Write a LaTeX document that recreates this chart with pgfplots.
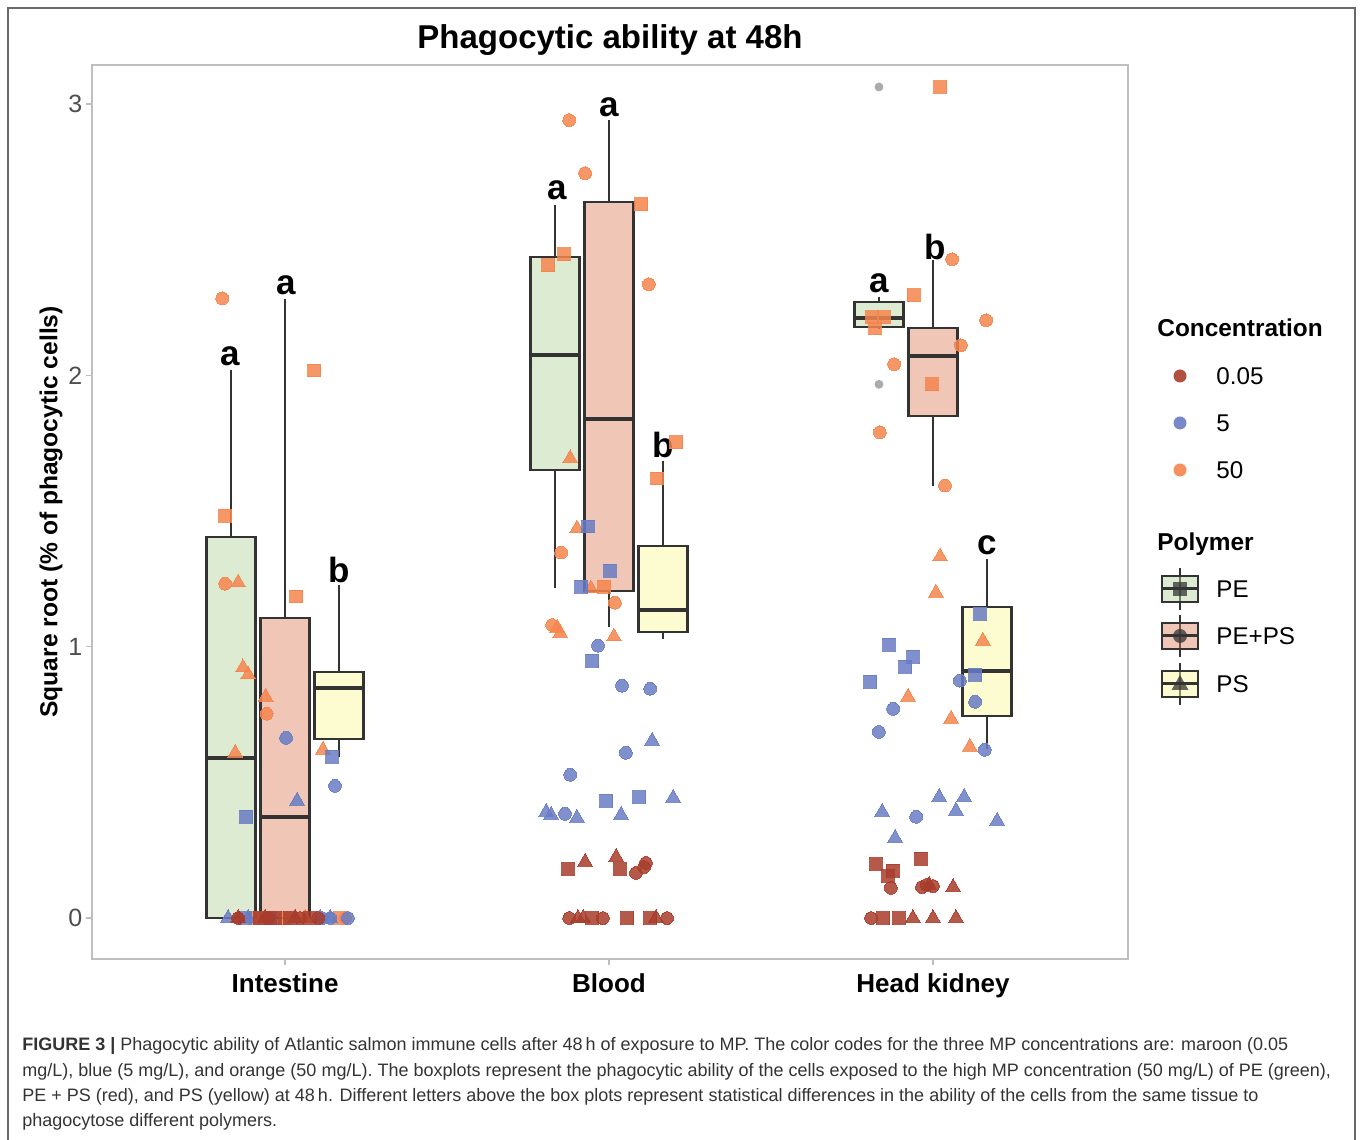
\documentclass[border=0pt]{standalone}
\usepackage{fontspec}
\setmainfont{Liberation Sans}
\usepackage{pgfplots}
\pgfplotsset{compat=1.18}
\usepgfplotslibrary{statistics}
\definecolor{cmar}{RGB}{168,60,44}
\definecolor{cblu}{RGB}{104,124,196}
\definecolor{cora}{RGB}{245,133,78}
\definecolor{fPE}{RGB}{177,211,155}
\definecolor{fPEPS}{RGB}{222,128,93}
\definecolor{fPS}{RGB}{251,246,151}
\definecolor{bxd}{RGB}{51,51,51}
\definecolor{axgray}{RGB}{190,190,190}
\definecolor{tickgray}{RGB}{77,77,77}
\definecolor{capgray}{RGB}{51,51,51}
\definecolor{framegray}{RGB}{105,105,105}
\pgfplotsset{
  sq/.style={only marks, mark=square*, mark size=3.2pt, color=#1, opacity=0.85, mark options={solid, draw=#1, fill=#1, line width=0pt}},
  ci/.style={only marks, mark=*, mark size=3.2pt, color=#1, opacity=0.85, mark options={solid, draw=#1, fill=#1, line width=0pt}},
  tr/.style={only marks, mark=triangle*, mark size=4.3pt, color=#1, opacity=0.85, mark options={solid, draw=#1, fill=#1, line width=0pt}},
  bx/.style={draw=bxd, line width=1.3pt, fill=#1, fill opacity=0.45, solid},
}
\begin{document}
\begin{tikzpicture}
\path[use as bounding box] (0pt,0pt) rectangle (680pt,570pt);
\begin{axis}[at={(45.85pt,90.5pt)}, anchor=south west, scale only axis,
  width=518.15pt, height=447pt,
  xmin=0.403, xmax=3.602, ymin=-0.151, ymax=3.144,
  axis line style={draw=axgray, line width=0.9pt},
  xtick={1,2,3}, xticklabels={Intestine,Blood,Head kidney},
  ytick={0,1,2,3}, tick pos=left, tick align=outside, major tick length=3pt,
  tick style={draw=axgray, line width=0.6pt},
  yticklabel style={font=\fontsize{12.5}{14}\selectfont, text=tickgray, inner sep=0pt, xshift=-1.5pt},
  xticklabel style={font=\fontsize{13}{15}\selectfont\bfseries, inner sep=0pt, yshift=-4pt},
  /pgf/number format/assume math mode=true,
  boxplot/draw direction=y,
  clip=false]
% ---- orange (50 mg/L)
\addplot[sq=cora] coordinates {(0.815,1.483) (1.090,2.018) (1.034,1.185) (0.907,0) (1.000,0) (1.170,0)
 (2.099,2.631) (1.812,2.406) (1.861,2.446) (2.207,1.753) (2.148,1.620) (1.985,1.221)
 (3.022,3.063) (2.941,2.295) (2.812,2.214) (2.849,2.214) (2.821,2.173) (2.997,1.967)};
\addplot[ci=cora] coordinates {(0.806,2.284) (0.815,1.232) (0.943,0.753) (1.185,0)
 (1.877,2.941) (1.926,2.745) (2.123,2.336) (1.852,1.347) (2.018,1.162) (1.824,1.080)
 (3.059,2.428) (3.164,2.203) (3.086,2.111) (2.880,2.041) (2.836,1.790) (3.037,1.594)};
\addplot[tr=cora] coordinates {(0.855,1.236) (0.870,0.923) (0.886,0.897) (0.940,0.815) (0.846,0.609) (1.117,0.620) (1.062,0)
 (1.880,1.694) (1.901,1.435) (1.944,1.214) (1.840,1.070) (1.849,1.050) (2.015,1.037)
 (3.022,1.332) (3.009,1.199) (3.154,1.022) (2.923,0.815) (3.056,0.734) (3.114,0.631)};
% ---- blue (5 mg/L)
\addplot[sq=cblu] coordinates {(0.880,0.373) (1.145,0.594) (0.877,0) (0.954,0)
 (1.935,1.443) (2.003,1.280) (1.914,1.221) (1.948,0.948) (1.991,0.432) (2.093,0.446)
 (3.145,1.122) (2.864,1.007) (2.938,0.963) (2.914,0.926) (2.806,0.871) (3.130,0.897)};
\addplot[ci=cblu] coordinates {(1.003,0.664) (1.154,0.487) (1.114,0) (1.139,0) (1.194,0)
 (1.966,1.004) (2.040,0.856) (2.127,0.845) (2.052,0.609) (1.880,0.528) (1.864,0.384)
 (3.083,0.875) (3.130,0.797) (2.877,0.771) (2.833,0.686) (3.160,0.620) (2.948,0.373)};
\addplot[tr=cblu] coordinates {(1.037,0.432) (0.824,0) (0.886,0) (1.108,0) (1.139,0)
 (2.133,0.653) (2.198,0.443) (1.806,0.391) (1.821,0.380) (1.901,0.369) (2.037,0.380)
 (2.843,0.391) (3.019,0.446) (3.096,0.446) (3.071,0.395) (3.198,0.358) (2.883,0.295)};
% ---- maroon (0.05 mg/L)
\addplot[sq=cmar] coordinates {(0.923,0) (0.969,0) (1.015,0) (1.077,0)
 (1.873,0.181) (2.034,0.181) (1.948,0) (2.056,0) (2.127,0)
 (2.824,0.199) (2.963,0.218) (2.861,0.155) (2.876,0.174) (2.846,0) (2.895,0)};
\addplot[ci=cmar] coordinates {(0.855,0) (0.948,0) (1.046,0) (1.102,0)
 (2.114,0.203) (2.108,0.188) (2.083,0.166) (1.877,0) (1.981,0) (2.179,0)
 (2.870,0.111) (2.966,0.114) (2.981,0.122) (3.000,0.118) (2.809,0)};
\addplot[tr=cmar] coordinates {(0.855,0) (0.938,0) (1.031,0)
 (1.926,0.207) (2.022,0.225) (1.904,0) (1.920,0) (2.145,0)
 (2.988,0.122) (3.062,0.114) (2.938,0) (3.000,0) (3.071,0)};
% ---- boxes (50 mg/L)
\pgfplotsset{boxplot/every median/.style={line width=2pt}}
\addplot[bx=fPE, boxplot prepared={draw position=0.8333, lower whisker=0, lower quartile=0, median=0.590, upper quartile=1.404, upper whisker=2.020, box extend=0.151, whisker extend=0}] coordinates {};
\addplot[bx=fPEPS, boxplot prepared={draw position=1, lower whisker=0, lower quartile=0, median=0.372, upper quartile=1.106, upper whisker=2.282, box extend=0.151, whisker extend=0}] coordinates {};
\addplot[bx=fPS, boxplot prepared={draw position=1.1667, lower whisker=0.593, lower quartile=0.660, median=0.848, upper quartile=0.907, upper whisker=1.227, box extend=0.151, whisker extend=0}] coordinates {};
\addplot[bx=fPE, boxplot prepared={draw position=1.8333, lower whisker=1.216, lower quartile=1.651, median=2.075, upper quartile=2.436, upper whisker=2.628, box extend=0.151, whisker extend=0}] coordinates {};
\addplot[bx=fPEPS, boxplot prepared={draw position=2, lower whisker=1.073, lower quartile=1.205, median=1.839, upper quartile=2.639, upper whisker=2.941, box extend=0.151, whisker extend=0}] coordinates {};
\addplot[bx=fPS, boxplot prepared={draw position=2.1667, lower whisker=1.028, lower quartile=1.054, median=1.135, upper quartile=1.371, upper whisker=1.684, box extend=0.151, whisker extend=0}] coordinates {};
\addplot[bx=fPE, boxplot prepared={draw position=2.8333, lower whisker=2.171, lower quartile=2.178, median=2.212, upper quartile=2.271, upper whisker=2.289, box extend=0.151, whisker extend=0}] coordinates {};
\addplot[bx=fPEPS, boxplot prepared={draw position=3, lower whisker=1.592, lower quartile=1.850, median=2.072, upper quartile=2.175, upper whisker=2.425, box extend=0.151, whisker extend=0}] coordinates {};
\addplot[bx=fPS, boxplot prepared={draw position=3.1667, lower whisker=0.623, lower quartile=0.745, median=0.910, upper quartile=1.146, upper whisker=1.323, box extend=0.151, whisker extend=0}] coordinates {};
% ---- outliers
\addplot[only marks, mark=*, mark size=2pt, color=black!33, mark options={solid, draw=black!33, fill=black!33}] coordinates {(2.8333,3.063) (2.8333,1.967)};
% ---- letters
\begin{scope}[every node/.style={font=\fontsize{17.5}{20}\selectfont\bfseries, inner sep=0pt}]
\node at (axis cs:0.830,2.071) {a};
\node at (axis cs:1.003,2.333) {a};
\node at (axis cs:1.167,1.283) {b};
\node at (axis cs:1.840,2.683) {a};
\node at (axis cs:2.000,2.989) {a};
\node at (axis cs:2.167,1.743) {b};
\node at (axis cs:2.833,2.341) {a};
\node at (axis cs:3.006,2.473) {b};
\node at (axis cs:3.167,1.375) {c};
\end{scope}
\end{axis}
\begin{scope}[x=0.5pt,y=-0.5pt,shift={(0pt,570pt)}]
% frame
\draw[framegray, line width=0.8pt] (8,1160) -- (8,8) -- (1355,8) -- (1355,1160);
% title
\node[font=\fontsize{16.5}{19}\selectfont\bfseries] at (610,40) {Phagocytic ability at 48h};
% y label
\node[font=\fontsize{12.3}{14}\selectfont\bfseries, rotate=90] at (51,512) {Square root (\% of phagocytic cells)};
% legend
\node[font=\fontsize{12.2}{14}\selectfont\bfseries, anchor=base west, inner sep=0pt] at (1157,337) {Concentration};
\fill[cmar, opacity=0.9] (1180,376) circle[radius=6.5];
\fill[cblu, opacity=0.9] (1180,423) circle[radius=6.5];
\fill[cora, opacity=0.9] (1180,470) circle[radius=6.5];
\begin{scope}[every node/.style={font=\fontsize{12.1}{14}\selectfont, anchor=base west, inner sep=0pt}]
\node at (1216,385) {0.05};
\node at (1216,432) {5};
\node at (1216,479) {50};
\node at (1216,598) {PE};
\node at (1216,645) {PE+PS};
\node at (1216,693) {PS};
\end{scope}
\node[font=\fontsize{12.2}{14}\selectfont\bfseries, anchor=base west, inner sep=0pt] at (1157,551) {Polymer};
% keys
\foreach \yy/\ff in {589/fPE, 636/fPEPS, 684/fPS} {
  \draw[bxd, line width=1pt] (1180,\yy-21) -- (1180,\yy+21);
  \fill[\ff, fill opacity=0.45] (1162,\yy-13) rectangle (1198,\yy+13);
  \draw[bxd, line width=1pt] (1162,\yy-13) rectangle (1198,\yy+13);
  \draw[bxd, line width=1.5pt] (1162,\yy) -- (1198,\yy);
}
\fill[bxd, opacity=0.75] (1173,582) rectangle (1187,596);
\fill[bxd, opacity=0.75] (1180,636) circle[radius=7];
\fill[bxd, opacity=0.75] (1171.5,690) -- (1188.5,690) -- (1180,675) -- cycle;
% caption
\begin{scope}[every node/.style={font=\fontsize{9}{10}\selectfont, text=capgray, anchor=base west, inner sep=0pt}]
\node at (22,1051) {{\bfseries FIGURE 3 |} Phagocytic ability of Atlantic salmon immune cells after 48\,h of exposure to MP. The color codes for the three MP concentrations are: maroon (0.05};
\node at (22,1077) {mg/L), blue (5 mg/L), and orange (50 mg/L). The boxplots represent the phagocytic ability of the cells exposed to the high MP concentration (50 mg/L) of PE (green),};
\node at (22,1102) {PE + PS (red), and PS (yellow) at 48\,h. Different letters above the box plots represent statistical differences in the ability of the cells from the same tissue to};
\node at (22,1127) {phagocytose different polymers.};
\end{scope}
\end{scope}
\end{tikzpicture}
\end{document}
